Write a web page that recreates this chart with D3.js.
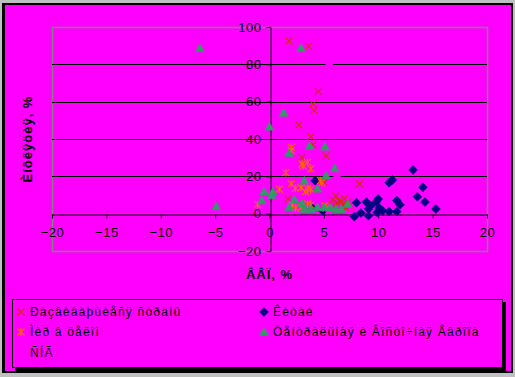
<!DOCTYPE html>
<html>
<head>
<meta charset="utf-8">
<script src="https://cdn.jsdelivr.net/npm/d3@7"></script>
<style>
  body { margin: 0; background: #c0c0c0; }
  svg { display: block; font-family: "Liberation Sans", Arial, sans-serif; }
</style>
</head>
<body>
<svg id="canvas" width="515" height="377"></svg>
<script>
// series values [x = ВВП %, y = инфляция %]
let developing = [[1.8,92.5],[3.6,89.8],[4.5,65.4],[4.0,58.8],[4.1,55.3],[2.7,47.5],[3.8,41.2],[4.0,37],
  [5.2,31],[3.0,30],[4.7,17.7],[5.0,16.8],[8.3,15.9],[1.7,7.9],[6.1,9.4],[6.4,7],[6.8,5.2],[6.3,5.5],
  [6.6,3.8],[7.2,6.2],[5.8,7.5],[6.0,4.5],[6.9,8],[7.4,4.5],[7.0,3.2]];
let world = [[2.0,35.5],[2.0,33.8],[3.0,26.6],[3.5,27.5],[3.1,25.5],[3.8,24],[1.5,22],[0.9,13.2],[2.0,16],
  [2.4,13.6],[2.9,14],[3.5,13.6],[3.8,13],[3.3,11.8],[4.7,17.7],[4.8,16.5],[-1.1,4.8],[2.1,4.6],[2.4,3],
  [2.9,3.4],[3.5,5.2],[3.8,4.6],[5.1,4.3],[5.2,3]];
let cis = [[5.5,80],[6.2,20]];
let china = [[13.2,23.4],[11.3,18],[11.0,16.6],[14.1,14.1],[4.2,17.7],[13.6,9.1],[14.3,6.2],[15.3,2.5],
  [11.7,7],[12.0,4.8],[10.0,7.9],[9.8,6.2],[8.9,6.2],[8.0,5.8],[9.3,4.3],[9.1,2.5],[8.4,0.4],[7.8,-1.6],
  [9.1,-1.1],[10.1,3],[10.4,1.6],[11.0,1.1],[11.7,1.1],[9.9,0.7],[4.9,1.6],[3.9,3.2]];
let cee = [[-6.4,88.6],[2.9,88.6],[1.3,54],[0,46.6],[-4.9,3.9],[3.7,36.3],[5.1,35.9],[1.8,32.5],[6.0,24.2],
  [5.2,20.4],[3.2,17.7],[-0.5,11.8],[0.3,11.8],[0.2,9.8],[-0.7,7],[2.3,7.5],[4.4,13.4],[1.8,3.4],[3.0,5.5],
  [3.2,2.5],[4.4,3.4],[5.0,3.4],[5.6,3.2],[6.1,2.5],[6.6,2.5],[7.2,5.2],[3.8,2.5]];

let xTicks = [-20, -15, -10, -5, 0, 5, 10, 15, 20];
let yTicks = [-20, 0, 20, 40, 60, 80, 100];
let gridValues = [20, 40, 60, 80];

let names = ['Ðàçâèâàþùèåñÿ ñòðàíû', 'Ìèð â öåëîì', 'ÑÍÃ', 'Êèòàé', 'Öåíòðàëüíàÿ è Âîñòî÷íàÿ Åâðîïà'];
let xTitle = 'ÂÂÏ, %';
let yTitle = 'Èíôëÿöèÿ, %';

let canvas = d3.select('#canvas');

// frame
canvas.append('rect').attr('x', 2).attr('y', 3).attr('width', 511).attr('height', 370).attr('fill', '#000');
canvas.append('rect').attr('x', 5).attr('y', 5).attr('width', 506).attr('height', 366).attr('fill', '#ff00ff');

let x = d3.scaleLinear().domain([-20, 20]).range([52, 487]);
let y = d3.scaleLinear().domain([-20, 100]).range([251, 27]);

// plot area border
canvas.append('rect')
  .attr('x', x(-20) + 0.5).attr('y', y(100) + 0.5)
  .attr('width', x(20) - x(-20)).attr('height', y(-20) - y(100))
  .attr('fill', 'none').attr('stroke', '#808080').attr('stroke-width', 1.5);

// gridlines
canvas.selectAll('line.grid')
  .data(gridValues)
  .enter()
  .append('line')
  .attr('class', 'grid')
  .attr('x1', x(-20)).attr('x2', x(20))
  .attr('y1', d => Math.round(y(d)) + 0.5).attr('y2', d => Math.round(y(d)) + 0.5)
  .attr('stroke', '#000');

let xAxis = d3.axisBottom(x).tickValues(xTicks).tickSize(4).tickSizeOuter(0).tickPadding(9);
let yAxis = d3.axisLeft(y).tickValues(yTicks).tickSize(4).tickSizeOuter(0).tickPadding(5);

let gx = canvas.append('g').attr('transform', `translate(0,${Math.round(y(0)) + 0.5})`).call(xAxis);
let gy = canvas.append('g').attr('transform', `translate(${Math.round(x(0)) + 0.5},0)`).call(yAxis);
[gx, gy].forEach(g => {
  g.selectAll('path, line').attr('stroke', '#000');
  g.selectAll('text').attr('fill', '#000').style('font-size', '13px').style('letter-spacing', '0.5px');
});

// markers
let shapes = {
  cross: 'M-3.5,-3.5L3.5,3.5M-3.5,3.5L3.5,-3.5',
  star: 'M-3.5,-3.5L3.5,3.5M-3.5,3.5L3.5,-3.5M0,-4L0,4',
  square: 'M-3.5,-3.5H3.5V3.5H-3.5Z',
  diamond: 'M0,-4.5L4.5,0L0,4.5L-4.5,0Z',
  triangle: 'M0,-4.5L4.5,3.5L-4.5,3.5Z'
};

let series = [
  { data: developing, shape: 'cross', color: '#cc3300', filled: false },
  { data: china, shape: 'diamond', color: '#000080', filled: true },
  { data: world, shape: 'star', color: '#ff6600', filled: false },
  { data: cee, shape: 'triangle', color: '#339966', filled: true },
  { data: cis, shape: 'square', color: '#ff00ff', filled: true }
];

let styleMark = (sel, s) => sel
  .attr('d', shapes[s.shape])
  .attr('fill', s.filled ? s.color : 'none')
  .attr('stroke', s.color)
  .attr('stroke-width', s.filled ? 0.5 : 1.1);

series.forEach(s => {
  canvas.append('g').selectAll('path')
    .data(s.data)
    .enter()
    .append('path')
    .attr('transform', d => `translate(${x(d[0])},${y(d[1])})`)
    .call(styleMark, s);
});

// axis titles
canvas.append('text')
  .attr('x', (x(-20) + x(20)) / 2).attr('y', 279)
  .attr('text-anchor', 'middle')
  .style('font-size', '13px').style('font-weight', 'bold').style('letter-spacing', '1px')
  .text(xTitle);

canvas.append('text')
  .attr('transform', `translate(32,${(y(-20) + y(100)) / 2}) rotate(-90)`)
  .attr('text-anchor', 'middle')
  .style('font-size', '13px').style('font-weight', 'bold').style('letter-spacing', '1px')
  .text(yTitle);

// legend
canvas.append('rect').attr('x', 15).attr('y', 302).attr('width', 491).attr('height', 69).attr('fill', '#000');
canvas.append('rect').attr('x', 12.5).attr('y', 299.5).attr('width', 490).attr('height', 68)
  .attr('fill', '#ff00ff').attr('stroke', '#000');

let legendItems = [
  { name: names[0], s: series[0], lx: 21, ly: 312 },
  { name: names[1], s: series[2], lx: 21, ly: 332 },
  { name: names[2], s: series[4], lx: 21, ly: 353 },
  { name: names[3], s: series[1], lx: 264, ly: 312 },
  { name: names[4], s: series[3], lx: 264, ly: 332 }
];

legendItems.forEach(item => {
  canvas.append('path')
    .attr('transform', `translate(${item.lx},${item.ly})`)
    .call(styleMark, item.s);
  canvas.append('text')
    .attr('x', item.lx + 9).attr('y', item.ly).attr('dy', '0.36em')
    .style('font-size', '12px').style('letter-spacing', '1.2px')
    .text(item.name);
});
</script>
</body>
</html>
